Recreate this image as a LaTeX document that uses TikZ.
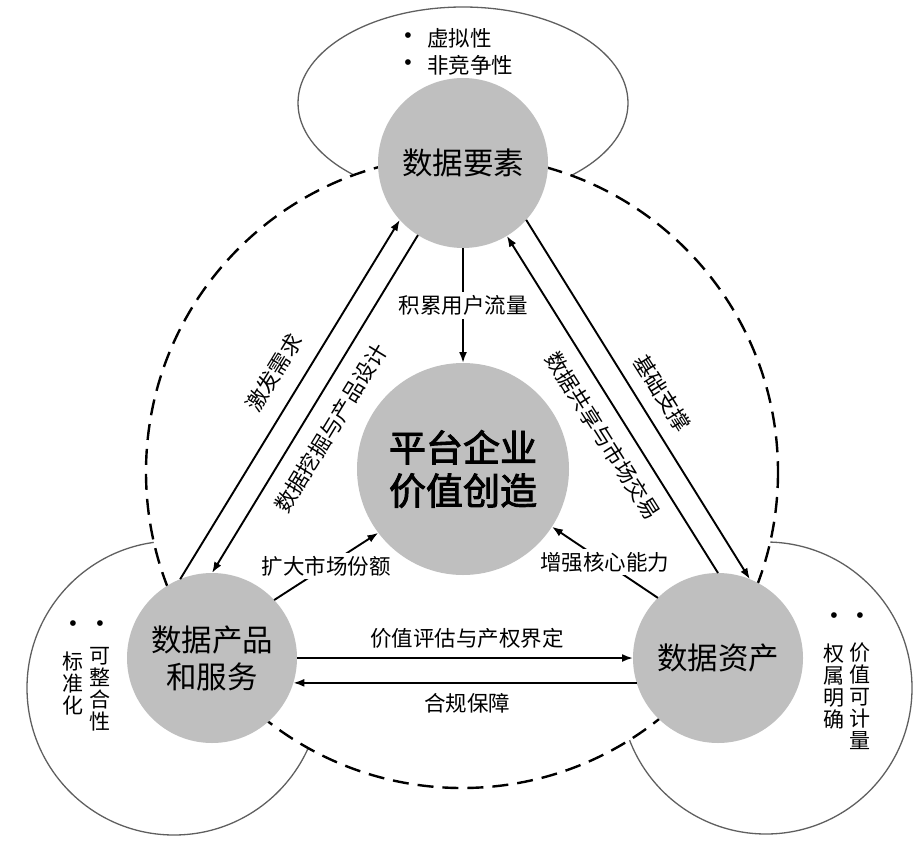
\documentclass[tikz,border=0pt]{standalone}
\usepackage{fontspec}
\setmainfont{Noto Sans CJK SC}
\newfontfamily\cjkbold[FakeBold=2.5]{Noto Sans CJK SC}
\newfontfamily\dotfont{Liberation Sans}
\usetikzlibrary{arrows.meta}
\definecolor{nodegray}{RGB}{191,191,191}
\definecolor{rimgray}{RGB}{95,95,95}
\begin{document}
\begin{tikzpicture}[x=1pt,y=-1pt,
  elem/.style={circle, fill=nodegray, minimum size=170pt, inner sep=0pt, outer sep=0pt, align=center, font=\fontsize{30.5}{37}\selectfont},
  core/.style={circle, fill=nodegray, minimum size=212pt, inner sep=0pt, outer sep=0pt, align=center, font=\cjkbold\fontsize{37}{43}\selectfont},
  arr/.style={line width=1.9pt, -{Latex[length=11pt,width=8pt]}},
  lbl/.style={font=\fontsize{21.5}{24}\selectfont, inner sep=1pt},
  lblw/.style={lbl, fill=white, inner sep=3pt},
  rim/.style={draw=rimgray, line width=1.3pt},
  ring/.style={line width=2.4pt, dash pattern=on 16pt off 9pt},
  side/.style={font=\fontsize{21}{22}\selectfont, align=center, anchor=north, inner sep=0pt},
  dot/.style={font=\dotfont\fontsize{21}{22}\selectfont, inner sep=0pt}
]
\useasboundingbox (0,0) rectangle (917,845);
% outer characteristic outlines
\draw[rim] (463,103) ellipse [x radius=165, y radius=96];
\draw[rim] (174,688) circle (147);
\draw[rim] (766,688) circle (146);
% dashed ring
\fill[white] (462,472) circle (316);
\draw[ring] (462,472) circle (316);
% nodes
\node[elem] (T) at (463,163) {数据要素};
\node[elem] (L) at (212,658) {数据产品\\和服务};
\node[elem] (R) at (718,658) {数据资产};
\node[core] (C) at (463,469) {平台企业\\价值创造};
% connectors
\draw[arr] (L.112) -- (T.222);
\draw[arr] (T.238) -- (L.90);
\draw[arr] (R.90) -- (T.301);
\draw[arr] (T.318) -- (R.68);
\draw[arr] (T.270) -- node[lblw]{积累用户流量} (C.90);
\draw[arr] (L.43) -- node[lblw]{扩大市场份额} (C.217);
\draw[arr] (R.135) -- node[lblw]{增强核心能力} (C.327);
\draw[arr] (L.0) -- (R.180);
\draw[arr] (R.197) -- (L.343);
% connector labels
\node[lbl, rotate=58.5] (l1) at (274,373) {激发需求};
\node[lbl, rotate=58.6] (l2) at (331,428) {数据挖掘与产品设计};
\node[lbl, rotate=-57.7] (l3) at (603,436) {数据共享与市场交易};
\node[lbl, rotate=-57.7] (l4) at (662,393) {基础支撑};
\node[lbl] (l5) at (467,638) {价值评估与产权界定};
\node[lbl] (l6) at (467,703) {合规保障};
% characteristics
\node[dot] (d1) at (408,38) {•};
\node[lbl, anchor=west] (t1) at (426,38) {虚拟性};
\node[dot] (d2) at (408,65) {•};
\node[lbl, anchor=west] (t2) at (426,65) {非竞争性};
\node[dot] (d3) at (73,626) {•};
\node[dot] (d4) at (100,626) {•};
\node[side] (s1) at (73,652) {标\\准\\化};
\node[side] (s2) at (100,647) {可\\整\\合\\性};
\node[dot] (d5) at (834,618) {•};
\node[dot] (d6) at (860,618) {•};
\node[side] (s3) at (834,644) {权\\属\\明\\确};
\node[side] (s4) at (860,643) {价\\值\\可\\计\\量};
\end{tikzpicture}
\end{document}
